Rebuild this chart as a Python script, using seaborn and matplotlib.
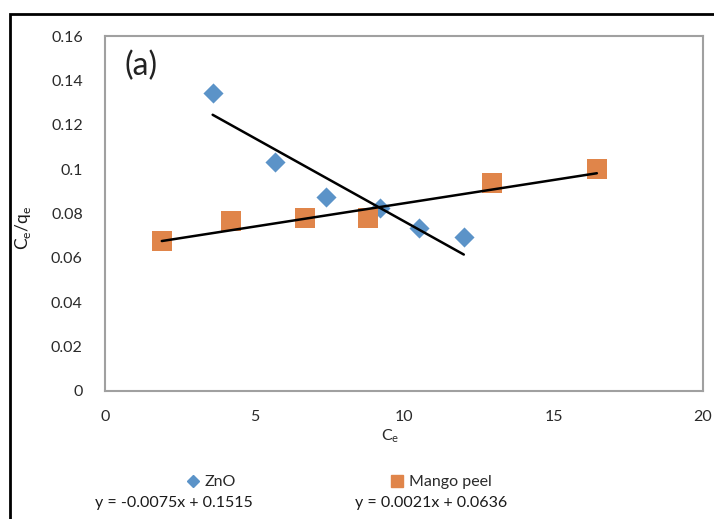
import matplotlib
matplotlib.use("Agg")
import matplotlib.pyplot as plt
import seaborn as sns
import pandas as pd
import numpy as np
from matplotlib.patches import Rectangle
from matplotlib.lines import Line2D

# ---- data ----
zno_x = [3.6, 5.7, 7.4, 9.2, 10.5, 12.0]
zno_y = [0.1345, 0.103, 0.0875, 0.0825, 0.0735, 0.0695]
mango_x = [1.9, 4.2, 6.7, 8.8, 12.95, 16.45]
mango_y = [0.0675, 0.0765, 0.078, 0.078, 0.0937, 0.100]
series_names = ["ZnO", "Mango peel"]
fit_slope = [-0.0075, 0.0021]
fit_intercept = [0.1515, 0.0636]
fit_labels = ["y = -0.0075x + 0.1515", "y = 0.0021x + 0.0636"]
x_ticks = [0, 5, 10, 15, 20]
y_ticks = [0, 0.02, 0.04, 0.06, 0.08, 0.1, 0.12, 0.14, 0.16]
y_tick_labels = ["0", "0.02", "0.04", "0.06", "0.08", "0.1", "0.12", "0.14", "0.16"]

df = pd.DataFrame({
    "x": zno_x + mango_x,
    "y": zno_y + mango_y,
    "series": [series_names[0]] * len(zno_x) + [series_names[1]] * len(mango_x),
})

sns.set_theme(style="white")
plt.rcParams["font.family"] = ["Lato", "DejaVu Sans"]

W, H = 714, 519
fig = plt.figure(figsize=(W / 100, H / 100), dpi=100)
ax = fig.add_axes([105 / W, 1 - 391 / H, (703 - 105) / W, (391 - 36) / H])

colors = {"ZnO": "#5b93c8", "Mango peel": "#e0854a"}
markers = {"ZnO": "D", "Mango peel": "s"}

sub = df[df.series == "ZnO"]
sns.scatterplot(data=sub, x="x", y="y", ax=ax, color=colors["ZnO"], marker="D",
                s=105, linewidth=0, legend=False, zorder=2)
sub = df[df.series == "Mango peel"]
sns.scatterplot(data=sub, x="x", y="y", ax=ax, color=colors["Mango peel"], marker="s",
                s=190, linewidth=0, legend=False, zorder=2)

# trend lines from the fitted equations, spanning each series' x range
for xs, m, b in [(zno_x, fit_slope[0], fit_intercept[0]), (mango_x, fit_slope[1], fit_intercept[1])]:
    xr = np.array([min(xs), max(xs)])
    ax.plot(xr, m * xr + b, color="black", lw=1.8, zorder=3)

ax.set_xlim(0, 20)
ax.set_ylim(0, 0.16)
ax.set_xticks(x_ticks)
ax.set_xticklabels([str(t) for t in x_ticks])
ax.set_yticks(y_ticks)
ax.set_yticklabels(y_tick_labels)
ax.tick_params(axis="both", length=0, labelsize=11.5, colors="#2a2a2a")
ax.tick_params(axis="x", pad=14)
ax.tick_params(axis="y", pad=16)
for sp in ax.spines.values():
    sp.set_color("#a0a0a0")
    sp.set_linewidth(1.5)
ax.set_xlabel("")
ax.set_ylabel("")
ax.grid(False)

fig.text(390 / W, 1 - 436 / H, r"C$_\mathregular{e}$", ha="center", va="center",
         fontsize=11.5, color="#2a2a2a")
fig.text(23 / W, 1 - 228 / H, r"C$_\mathregular{e}$/q$_\mathregular{e}$", ha="center",
         va="center", rotation=90, fontsize=12.5, color="#1a1a1a")

ax.text(0.65, 0.1466, "(a)", fontsize=23, color="#222222", ha="left", va="center")

# legend entries below the plot
for name, mx in [("ZnO", 197), ("Mango peel", 401)]:
    h = Line2D([], [], marker=markers[name], color=colors[name], linestyle="none",
               markersize=6 if name == "ZnO" else 8)
    leg = fig.legend([h], [name], loc="center left",
                     bbox_to_anchor=((mx - 10) / W, 1 - 482 / H), frameon=False,
                     fontsize=11.5, handlelength=0.8, handletextpad=0.3, borderpad=0,
                     borderaxespad=0)
    for t in leg.get_texts():
        t.set_color("#2a2a2a")

fig.text(174 / W, 1 - 503 / H, fit_labels[0], ha="center", va="center", fontsize=11.5, color="#1a1a1a")
fig.text(431 / W, 1 - 503 / H, fit_labels[1], ha="center", va="center", fontsize=11.5, color="#1a1a1a")

# outer frame of the chart area
fig.patches.append(Rectangle((10 / W, -0.05), 1.0, 1 - 14 / H + 0.05, transform=fig.transFigure,
                             fill=False, edgecolor="black", lw=2, zorder=0))

fig.savefig("out.png", dpi=100, facecolor="white")
